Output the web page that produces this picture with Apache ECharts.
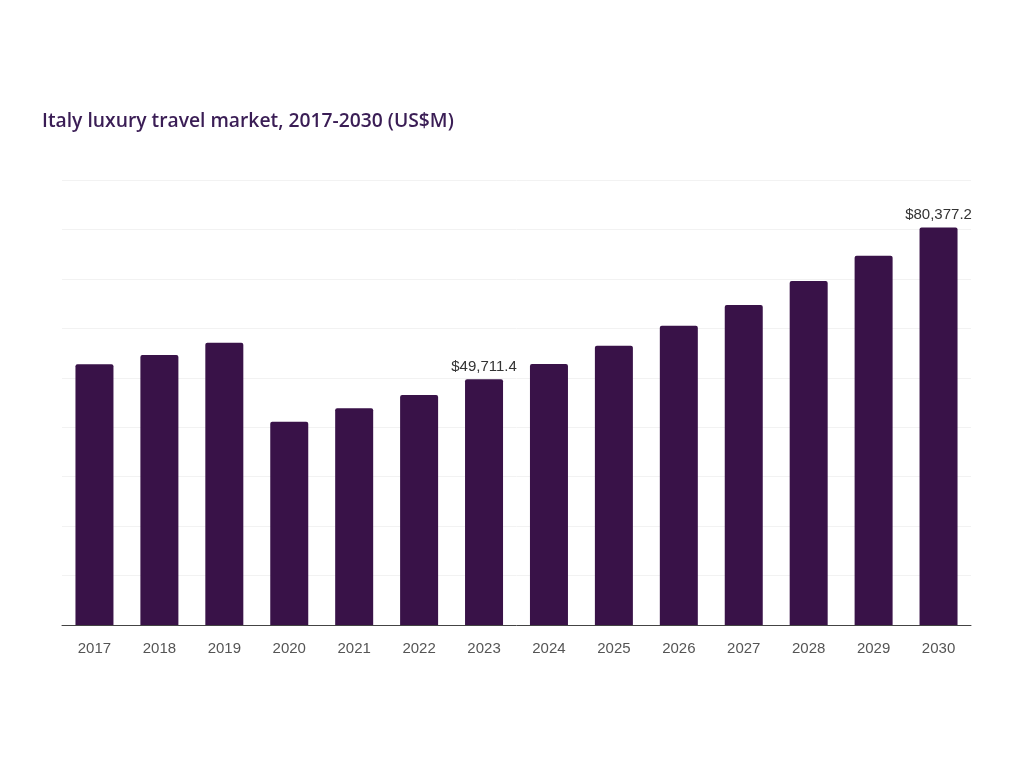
<!DOCTYPE html>
<html>
<head>
<meta charset="utf-8">
<script src="https://cdn.jsdelivr.net/npm/echarts@6/dist/echarts.min.js"></script>
<style>
html,body{margin:0;padding:0;background:#fff;}
#chart{width:1024px;height:768px;}
</style>
</head>
<body>
<div id="chart"></div>
<script>
const categories = ['2017','2018','2019','2020','2021','2022','2023','2024','2025','2026','2027','2028','2029','2030'];
const marketValues = [52730, 54610, 57100, 41120, 43830, 46520, 49711.4, 52790, 56490, 60540, 64720, 69580, 74700, 80377.2];
const labelledYears = ['2023', '2030'];
const chartTitle = 'Italy luxury travel market, 2017-2030 (US$M)';

function fmt(v){
  return '$' + v.toLocaleString('en-US', {minimumFractionDigits:1, maximumFractionDigits:1});
}

const chart = echarts.init(document.getElementById('chart'));
chart.setOption({
  animation: false,
  backgroundColor: '#ffffff',
  title: {
    text: chartTitle,
    left: 37,
    top: 107,
    textStyle: {
      fontFamily: 'Open Sans',
      fontWeight: 600,
      fontSize: 19.3,
      color: '#3a1d55'
    }
  },
  grid: { left: 62, right: 53, top: 180, bottom: 143 },
  xAxis: {
    type: 'category',
    data: categories,
    axisLine: { lineStyle: { color: '#444', width: 1 } },
    axisTick: { show: false },
    axisLabel: {
      color: '#555',
      fontFamily: 'Liberation Sans, Arial, sans-serif',
      fontSize: 15,
      margin: 16
    }
  },
  yAxis: {
    type: 'value',
    min: 0,
    max: 90000,
    interval: 10000,
    axisLine: { show: false },
    axisTick: { show: false },
    axisLabel: { show: false },
    splitLine: { lineStyle: { color: '#f2f2f2', width: 1 } }
  },
  series: [{
    type: 'bar',
    data: marketValues.map((v, i) => ({
      value: v,
      label: {
        show: labelledYears.includes(categories[i]),
        position: 'top',
        distance: 5,
        formatter: p => fmt(p.value),
        color: '#333',
        fontFamily: 'Liberation Sans, Arial, sans-serif',
        fontSize: 15
      }
    })),
    barWidth: 38,
    itemStyle: { color: '#391248', borderRadius: [2, 2, 0, 0] }
  }]
});
</script>
</body>
</html>
